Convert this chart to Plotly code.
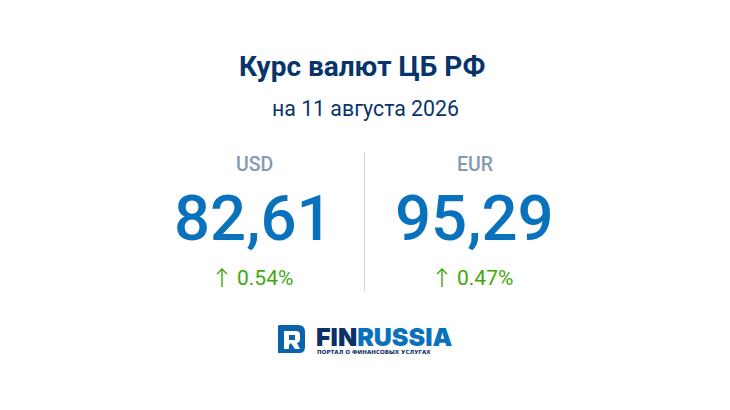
import plotly.graph_objects as go

# ── data ─────────────────────────────────────
TITLE = "Курс валют ЦБ РФ"
SUBTITLE = "на 11 августа 2026"
currencies = ["USD", "EUR"]
rates = ["82,61", "95,29"]
changes = ["0.54%", "0.47%"]

# column positions (px)
cur_x = [254.5, 474.5]
rate_x = [253.5, 474.5]
chg_x = [265, 485]
arrow_x = [222, 442]

NAVY = "#07356b"
BLUE = "#0a72bd"
GREY = "#879ab0"
GREEN = "#3fa80f"
LINE = "#ccd5dd"
FONT = "Roboto"

fig = go.Figure()


def label(x, y, text, size, color, weight=400, family=FONT, anchor="center"):
    fig.add_annotation(
        x=x, y=y, text=text,
        xref="x", yref="y", showarrow=False,
        xanchor=anchor, yanchor="middle",
        font=dict(family=family, size=size, color=color, weight=weight),
    )


label(362, 66, TITLE, 28, NAVY, weight=700)
label(365, 108, SUBTITLE, 21.3, NAVY)

for i in range(2):
    label(cur_x[i], 164, currencies[i], 19.5, GREY, weight=500)
    label(rate_x[i], 218, rates[i], 63.5, BLUE, weight=500)
    label(chg_x[i], 278, changes[i], 21, GREEN)
    ax = arrow_x[i]
    fig.add_shape(type="path",
                  path=f"M {ax} 287 L {ax} 269 M {ax - 5} 274 L {ax} 269 L {ax + 5} 274",
                  line=dict(color=GREEN, width=1.4))

# divider
fig.add_shape(type="line", x0=364.5, x1=364.5, y0=152, y1=291,
              line=dict(color=LINE, width=1))

# ── logo ─────────────────────────────────────
fig.add_shape(type="path",
              path="M 279 325 L 298 325 Q 305 325 305 332 L 305 347 Q 305 353 299 353 L 278 353 L 278 326 Z",
              fillcolor="#0a62ad", line=dict(width=0))
fig.add_shape(type="path",
              path="M 284 331 L 296 331 Q 300 331 300 335 L 300 340 Q 300 342 297 343 L 300 349 "
                   "L 295 349 L 291 343 L 289 345 L 289 349 L 284 349 Z",
              fillcolor="#ffffff", line=dict(width=0))
fig.add_shape(type="path",
              path="M 289 335 L 295 335 L 295 340 L 289 340 Z",
              fillcolor="#0a62ad", line=dict(width=0))
# height keeps the wordmark box from running over the tagline under it
fig.add_annotation(x=314, y=337, xref="x", yref="y", showarrow=False,
                   xanchor="left", yanchor="middle", height=20,
                   text="<span style='color:#0b2f66'>FIN</span>"
                        "<span style='color:#0a72bd'>RUSSIA</span>",
                   font=dict(family="Inter", size=25, weight=900))
fig.add_annotation(x=315, y=352, xref="x", yref="y", showarrow=False,
                   xanchor="left", yanchor="middle",
                   text="<b>ПОРТАЛ О ФИНАНСОВЫХ УСЛУГАХ</b>",
                   font=dict(family="DejaVu Sans", size=5.6, color="#0b2f66"))

fig.update_xaxes(visible=False, range=[0, 730], fixedrange=True)
fig.update_yaxes(visible=False, range=[410, 0], fixedrange=True)
fig.update_layout(
    width=730, height=410,
    margin=dict(l=0, r=0, t=0, b=0),
    paper_bgcolor="#ffffff", plot_bgcolor="#ffffff",
    showlegend=False,
)

fig.write_html("out.html", config={"displayModeBar": False},
               post_script="document.body.style.margin='0';")
